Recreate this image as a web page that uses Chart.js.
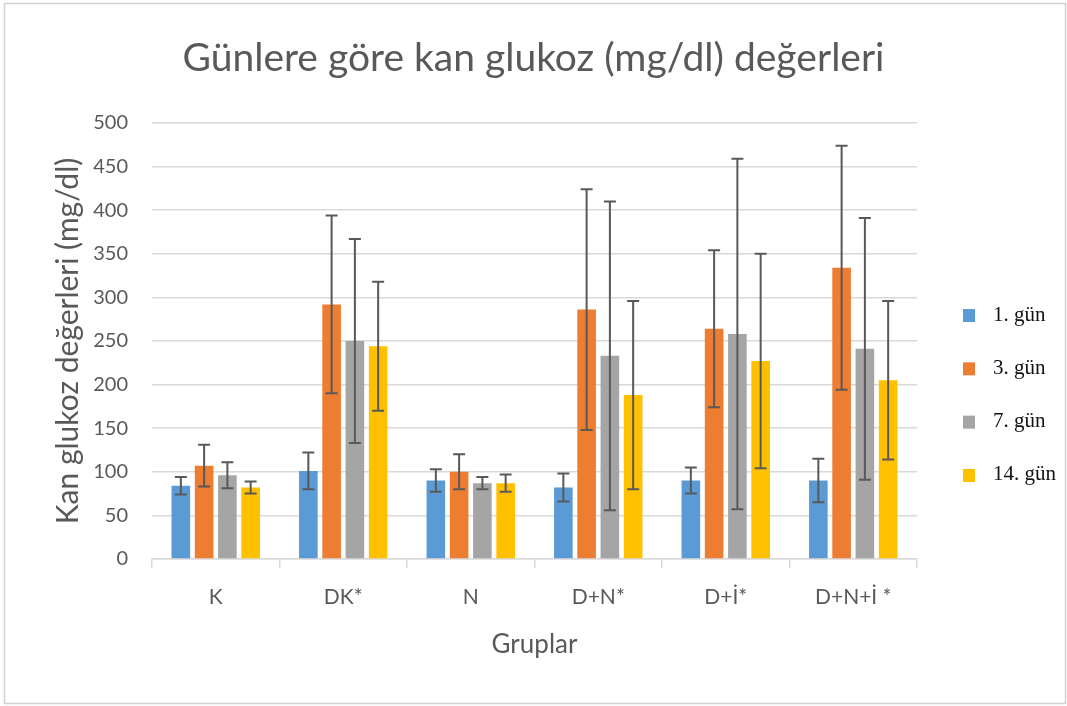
<!DOCTYPE html>
<html>
<head>
<meta charset="utf-8">
<script src="https://cdn.jsdelivr.net/npm/chart.js@4.4.1/dist/chart.umd.min.js"></script>
<style>
  html, body { margin: 0; padding: 0; background: #ffffff; }
  #wrap { position: relative; width: 1067px; height: 706px; }
</style>
</head>
<body>
<div id="wrap"><canvas id="c" width="1067" height="706"></canvas></div>
<script>
// ---- data ----
const categories = ['K', 'DK*', 'N', 'D+N*', 'D+İ*', 'D+N+İ *'];
const seriesNames = ['1. gün', '3. gün', '7. gün', '14. gün'];
const day1  = [84, 101, 90, 82, 90, 90];
const day3  = [107, 292, 100, 286, 264, 334];
const day7  = [96, 250, 87, 233, 258, 241];
const day14 = [82, 244, 87, 188, 227, 205];
const err1  = [10, 21, 13, 16, 15, 25];
const err3  = [24, 102, 20, 138, 90, 140];
const err7  = [15, 117, 7, 177, 201, 150];
const err14 = [7, 74, 10, 108, 123, 91];
const yTicks = [0, 50, 100, 150, 200, 250, 300, 350, 400, 450, 500];

const colors = ['#5b9bd5', '#ed7d31', '#a5a5a5', '#ffc000'];
const values = [day1, day3, day7, day14];
const errors = [err1, err3, err7, err14];

const SANS = "Lato, 'Open Sans', sans-serif";
const TEXT = '#595959';
const GRID = '#d9d9d9';

const borderPlugin = {
  id: 'outerBorder',
  beforeDraw(chart) {
    const ctx = chart.ctx;
    ctx.save();
    ctx.fillStyle = '#ffffff';
    ctx.fillRect(0, 0, chart.width, chart.height);
    ctx.strokeStyle = '#d0d0d0';
    ctx.lineWidth = 1.5;
    ctx.strokeRect(4.5, 3.5, 1061, 700);
    ctx.restore();
  }
};

const errorBarPlugin = {
  id: 'errorBars',
  afterDatasetsDraw(chart) {
    const ctx = chart.ctx;
    const y = chart.scales.y;
    ctx.save();
    ctx.strokeStyle = '#595959';
    ctx.lineWidth = 2;
    chart.data.datasets.forEach((ds, di) => {
      const meta = chart.getDatasetMeta(di);
      meta.data.forEach((bar, i) => {
        const v = ds.data[i], e = ds.errors[i];
        const yt = y.getPixelForValue(v + e);
        const yb = y.getPixelForValue(v - e);
        const x = bar.x, cap = 6;
        ctx.beginPath();
        ctx.moveTo(x, yt); ctx.lineTo(x, yb);
        ctx.moveTo(x - cap, yt); ctx.lineTo(x + cap, yt);
        ctx.moveTo(x - cap, yb); ctx.lineTo(x + cap, yb);
        ctx.stroke();
      });
    });
    ctx.restore();
  }
};

const legendPlugin = {
  id: 'sideLegend',
  afterDraw(chart) {
    const ctx = chart.ctx;
    const a = chart.chartArea;
    const x0 = a.right + 46;
    const mid = (a.top + a.bottom) / 2 + 54;
    ctx.save();
    ctx.font = "21px 'Liberation Serif', 'DejaVu Serif', serif";
    ctx.textBaseline = 'middle';
    ctx.textAlign = 'left';
    chart.data.datasets.forEach((ds, i) => {
      const cy = mid + (i - 1.5) * 53.3;
      ctx.fillStyle = ds.backgroundColor;
      ctx.fillRect(x0, cy - 6, 12, 13);
      ctx.fillStyle = '#111111';
      ctx.fillText(ds.label, x0 + 30, cy);
    });
    ctx.restore();
  }
};

const datasets = seriesNames.map((name, i) => ({
  label: name,
  data: values[i],
  errors: errors[i],
  backgroundColor: colors[i],
  borderWidth: 0,
  categoryPercentage: 0.73,
  barPercentage: 0.8,
  yAxisID: 'y'
}));

new Chart(document.getElementById('c'), {
  type: 'bar',
  data: { labels: categories, datasets },
  plugins: [borderPlugin, errorBarPlugin, legendPlugin],
  options: {
    responsive: false,
    animation: false,
    devicePixelRatio: 1,
    layout: { padding: 0 },
    plugins: {
      legend: { display: false },
      tooltip: { enabled: false },
      title: {
        display: true,
        text: 'Günlere göre kan glukoz (mg/dl) değerleri',
        color: TEXT,
        font: { family: SANS, size: 39, weight: 'normal' },
        padding: { top: 35, bottom: 41.2 }
      }
    },
    scales: {
      x: {
        type: 'category',
        grid: { display: true, drawOnChartArea: false, drawTicks: true, tickLength: 9, offset: true, color: GRID, lineWidth: 1.5 },
        border: { display: true, color: GRID, width: 1.5 },
        ticks: { color: TEXT, font: { family: SANS, size: 21 }, padding: 17, maxRotation: 0 },
        title: { display: true, text: 'Gruplar', color: TEXT, font: { family: SANS, size: 26 }, padding: { top: 0, bottom: 46 } },
        afterFit(s) { s.height = 147; }
      },
      y: {
        min: 0, max: 500,
        afterBuildTicks(s) { s.ticks = yTicks.map(v => ({ value: v })); },
        grid: { color: GRID, lineWidth: 1.5, drawTicks: false },
        border: { display: false },
        ticks: { color: TEXT, font: { family: SANS, size: 20 }, padding: 24 },
        title: { display: true, text: 'Kan glukoz değerleri (mg/dl)', color: TEXT, font: { family: SANS, size: 30 }, padding: { top: 50, bottom: 0 } },
        afterFit(s) { s.width = 152; }
      },
      y2: {
        position: 'right',
        display: true,
        min: 0, max: 500,
        grid: { display: false, drawOnChartArea: false },
        border: { display: false },
        ticks: { display: false },
        afterFit(s) { s.width = 150; }
      }
    }
  }
});
</script>
</body>
</html>
